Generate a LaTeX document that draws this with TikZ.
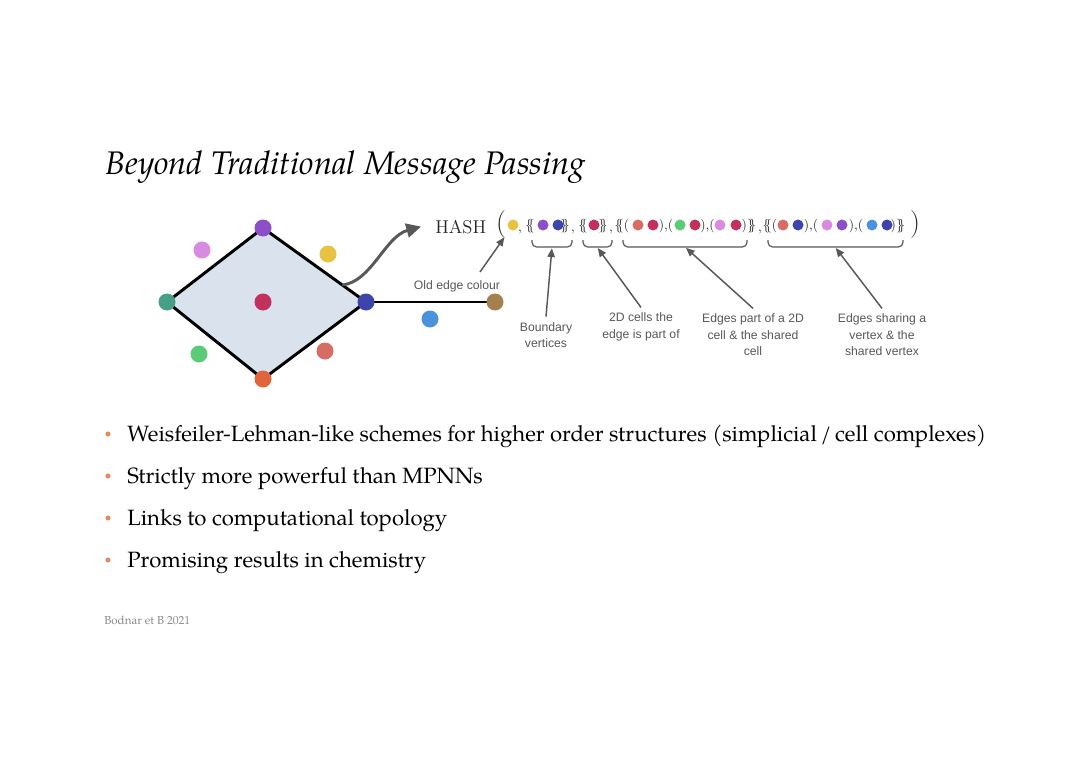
\documentclass[tikz,border=0pt]{standalone}
\usepackage{fontspec}
\setmainfont{TeX Gyre Pagella}
\newfontfamily\lmr{Latin Modern Roman}
\newfontfamily\lsans{Liberation Sans}
\usetikzlibrary{arrows.meta,calc}
\pgfdeclarelayer{bg}
\pgfsetlayers{bg,main}
\definecolor{cellfill}{HTML}{D9E2ED}
\definecolor{cpurple}{HTML}{8C4FC8}
\definecolor{cpink}{HTML}{D98BE2}
\definecolor{cyellow}{HTML}{E6C340}
\definecolor{cteal}{HTML}{46A087}
\definecolor{ccrimson}{HTML}{C2305B}
\definecolor{cgreen}{HTML}{5CCB78}
\definecolor{csalmon}{HTML}{D66C63}
\definecolor{corange}{HTML}{E2643A}
\definecolor{cnavy}{HTML}{3D45AA}
\definecolor{cblue}{HTML}{4A92DC}
\definecolor{cbrown}{HTML}{A5804F}
\definecolor{agray}{HTML}{585858}
\definecolor{bulletc}{HTML}{E38B5A}
\definecolor{footc}{HTML}{8A8A8A}
\begin{document}
\begin{tikzpicture}[x=0.75pt,y=-0.75pt,
  gdot/.style={circle,inner sep=0pt,minimum size=12.75pt},
  tdot/.style={circle,inner sep=0pt,minimum size=8.25pt},
  edgeline/.style={draw=black,line width=2.2pt,line cap=round,line join=round},
  bigarr/.style={draw=agray,line width=2.2pt,-{Triangle[length=11pt,width=10.5pt]}},
  smarr/.style={draw=agray,line width=1.1pt,-{Triangle[length=6.5pt,width=5.5pt]}},
  bracepath/.style={draw=agray,line width=0.9pt,rounded corners=3.5pt},
  lbl/.style={font=\lsans\fontsize{9.15}{12.4}\selectfont,text=agray,align=center,inner sep=4pt},
  punct/.style={font=\lmr\fontsize{10.2}{10}\selectfont,text=black!85,inner sep=0pt,anchor=base},
  bigparen/.style={font=\lmr\fontsize{21}{21}\selectfont,text=black!85,inner sep=0pt},
  bullettext/.style={font=\fontsize{16.6}{19}\selectfont,anchor=base west,inner sep=0pt},
  bulletdot/.style={circle,fill=bulletc,inner sep=0pt,minimum size=3.8pt}
]
\begin{pgfonlayer}{bg}
\useasboundingbox (0,0) rectangle (1080,763);
\fill[white] (0,0) rectangle (1080,763);
\end{pgfonlayer}

% title
\node[anchor=base west,inner sep=0pt,font=\fontsize{24.5}{29}\selectfont\itshape] (title) at (105,174) {Beyond Traditional Message Passing};

% graph vertices
\node[gdot,fill=cpurple] (vt) at (263,228) {};
\node[gdot,fill=cteal] (vl) at (167,302) {};
\node[gdot,fill=corange] (vb) at (263,379) {};
\node[gdot,fill=cnavy] (vr) at (366,302) {};
\node[gdot,fill=ccrimson] (vc) at (263,302) {};
\node[gdot,fill=cbrown] (vbr) at (495,302) {};
% edge colour dots
\node[gdot,fill=cpink] (dpink) at (202,250) {};
\node[gdot,fill=cyellow] (dyel) at (328,254) {};
\node[gdot,fill=cgreen] (dgreen) at (199,354) {};
\node[gdot,fill=csalmon] (dsalmon) at (325,351) {};
\node[gdot,fill=cblue] (dblue) at (430,319) {};

\begin{pgfonlayer}{bg}
\fill[cellfill] (vt.center) -- (vr.center) -- (vb.center) -- (vl.center) -- cycle;
\draw[edgeline] (vt.center) -- (vr.center) -- (vb.center) -- (vl.center) -- cycle;
\draw[edgeline] (vr.center) -- (vbr.center);
\end{pgfonlayer}

% HASH tuple
\node[anchor=base west,inner sep=0pt,font=\lmr\fontsize{13.9}{14}\selectfont,text=black!85] (hash) at (435,233) {HASH};
\node[bigparen] (lp) at (501,225) {(};
\node[bigparen] (rp) at (915,225) {)};

\node[tdot,fill=cyellow] (ty) at (513,225) {};
\node[tdot,fill=cpurple] (t1a) at (543,225) {};
\node[tdot,fill=cnavy] (t1b) at (558,225) {};
\node[tdot,fill=ccrimson] (t2a) at (594,225) {};
\node[tdot,fill=csalmon] (t3a) at (638,225) {};
\node[tdot,fill=ccrimson] (t3b) at (653,225) {};
\node[tdot,fill=cgreen] (t3c) at (680,225) {};
\node[tdot,fill=ccrimson] (t3d) at (695,225) {};
\node[tdot,fill=cpink] (t3e) at (720,225) {};
\node[tdot,fill=ccrimson] (t3f) at (736,225) {};
\node[tdot,fill=csalmon] (t4a) at (783,225) {};
\node[tdot,fill=cnavy] (t4b) at (798,225) {};
\node[tdot,fill=cpink] (t4c) at (827,225) {};
\node[tdot,fill=cpurple] (t4d) at (842,225) {};
\node[tdot,fill=cblue] (t4e) at (872,225) {};
\node[tdot,fill=cnavy] (t4f) at (887,225) {};

\newcommand{\dlb}{\{\kern-.32em\{}
\newcommand{\drb}{\}\kern-.32em\}}
\node[punct] (p1) at (520,231) {,};
\node[punct] (p2) at (530,229) {\dlb};
\node[punct] (p3) at (565,229) {\drb};
\node[punct] (p4) at (573,231) {,};
\node[punct] (p5) at (583,229) {\dlb};
\node[punct] (p6) at (603,229) {\drb};
\node[punct] (p7) at (611,231) {,};
\node[punct] (p8) at (622,229) {\dlb(};
\node[punct] (p9) at (666,229) {),(};
\node[punct] (p10) at (707.5,229) {),(};
\node[punct] (p11) at (749,229) {)\drb};
\node[punct] (p12) at (760,231) {,};
\node[punct] (p13) at (770,229) {\dlb(};
\node[punct] (p14) at (811,229) {),(};
\node[punct] (p15) at (856,229) {),(};
\node[punct] (p16) at (898,229) {)\drb};

% braces under tuple
\coordinate (b1) at (552,247);
\coordinate (b2) at (597,247);
\coordinate (b3) at (685,247);
\coordinate (b4) at (835,247);
\draw[bracepath] (532,240) -- (532,247) -- (572,247) -- (572,240);
\draw[bracepath] (583,240) -- (583,247) -- (612,247) -- (612,240);
\draw[bracepath] (623,240) -- (623,247) -- (747,247) -- (747,240);
\draw[bracepath] (768,240) -- (768,247) -- (903,247) -- (903,240);

% labels
\node[lbl] (lold) at (457,286) {Old edge colour};
\node[lbl] (lbound) at (546,335) {Boundary\\vertices};
\node[lbl] (l2d) at (641,327) {2D cells the\\edge is part of};
\node[lbl] (lpart) at (753,335) {Edges part of a 2D\\cell \& the shared\\cell};
\node[lbl] (lshare) at (882,335) {Edges sharing a\\vertex \& the\\shared vertex};

\coordinate (oldstart) at (480,272);
\draw[smarr,shorten >=7pt] (oldstart) -- (ty);
\draw[smarr,shorten >=1pt] (lbound.north) -- (b1);
\draw[smarr,shorten >=1pt] (l2d.north) -- (b2);
\draw[smarr,shorten >=1pt] (lpart.north) -- (b3);
\draw[smarr,shorten >=1pt] (lshare.north) -- (b4);

% curved arrow
\coordinate (cstart) at ($(vt)!0.77!(vr)$);
\draw[bigarr] (cstart) .. controls +(29,-3) and +(-36,10) .. ([xshift=-10.5pt]hash.west);

% bullets
\node[bulletdot] (bd1) at (108,434) {};
\node[bulletdot] (bd2) at (108,476) {};
\node[bulletdot] (bd3) at (108,518) {};
\node[bulletdot] (bd4) at (108,560) {};
\node[bullettext] (bt1) at (127,441) {Weisfeiler-Lehman-like schemes for higher order structures (simplicial\,/\,cell complexes)};
\node[bullettext] (bt2) at (127,483) {Strictly more powerful than MPNNs};
\node[bullettext] (bt3) at (127,525) {Links to computational topology};
\node[bullettext] (bt4) at (127,567) {Promising results in chemistry};

% footnote
\node[anchor=base west,inner sep=0pt,font=\fontsize{8.7}{10}\selectfont,text=footc] (foot) at (104,624) {Bodnar et B 2021};
\end{tikzpicture}
\end{document}
